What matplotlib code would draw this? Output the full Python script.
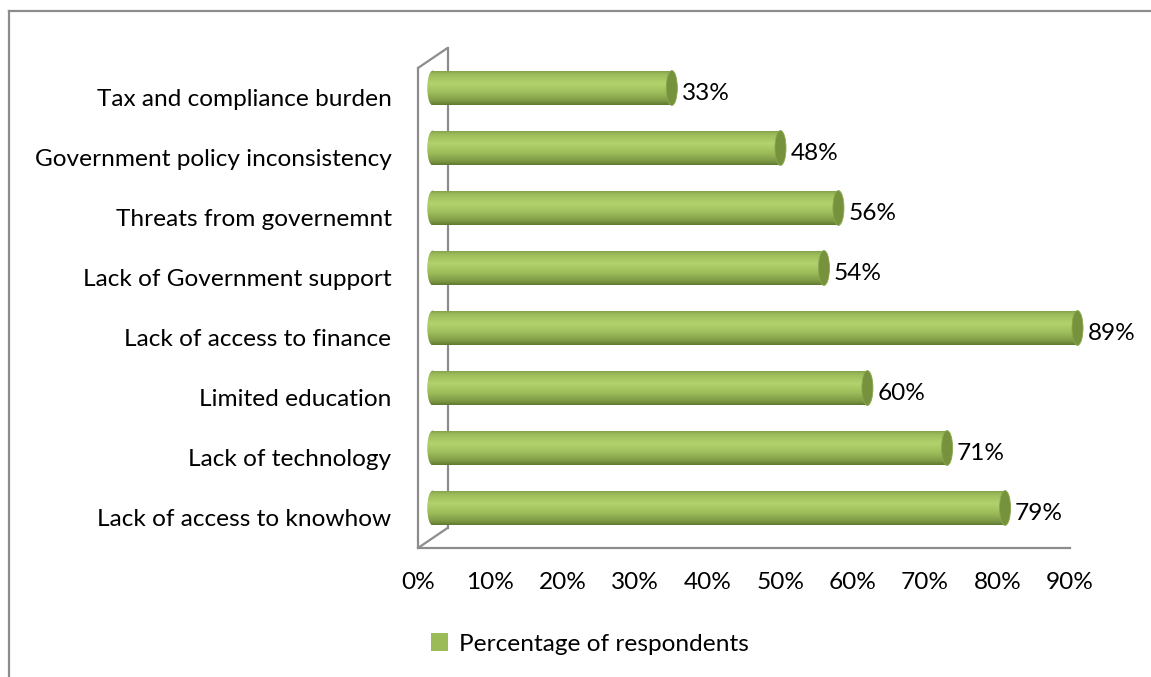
import numpy as np
import matplotlib
matplotlib.use("Agg")
import matplotlib.pyplot as plt
from matplotlib.patches import Ellipse, Rectangle, Patch, ConnectionPatch
from matplotlib.lines import Line2D
from matplotlib.transforms import ScaledTranslation
from matplotlib.colors import LinearSegmentedColormap

# --- data -------------------------------------------------------------
categories = [
    "Tax and compliance burden",
    "Government policy inconsistency",
    "Threats from governemnt",
    "Lack of Government support",
    "Lack of access to finance",
    "Limited education",
    "Lack of technology",
    "Lack of access to knowhow",
]
values = [33, 48, 56, 54, 89, 60, 71, 79]
x_ticks = [0, 10, 20, 30, 40, 50, 60, 70, 80, 90]
x_tick_labels = [f"{t}%" for t in x_ticks]
series_name = "Percentage of respondents"

# --- style ------------------------------------------------------------
plt.rcParams["font.family"] = ["Lato", "DejaVu Sans"]
FS = 17.6
GRID = "#8c8c8c"
GREEN = "#9bbb59"
CAP = "#76923c"

W, H = 1151, 677
fig = plt.figure(figsize=(W / 100, H / 100), dpi=100)
fig.patch.set_facecolor("white")

# chart-area border (top and left edges visible)
fig.add_artist(Line2D([9 / W, 1.0], [1 - 11 / H, 1 - 11 / H], color=GRID, lw=1.6,
                      transform=fig.transFigure))
fig.add_artist(Line2D([9 / W, 9 / W], [0.0, 1 - 11 / H], color=GRID, lw=1.6,
                      transform=fig.transFigure))

# front plane of the 3-D plot area
x0, x1, ytop, ybot = 418, 1070, 68, 548
ax = fig.add_axes([x0 / W, 1 - ybot / H, (x1 - x0) / W, (ybot - ytop) / H])
ax.set_xlim(0, 90)
ax.set_ylim(len(categories) - 0.5, -0.5)
ax.set_facecolor("none")

for s in ["top", "right"]:
    ax.spines[s].set_visible(False)
for s in ["left", "bottom"]:
    ax.spines[s].set_color(GRID)
    ax.spines[s].set_linewidth(1.6)

ax.set_xticks(x_ticks)
ax.set_xticklabels(x_tick_labels, fontsize=FS)
ax.set_yticks(range(len(categories)))
ax.set_yticklabels(categories, fontsize=FS)
ax.tick_params(axis="x", length=0, pad=17)
ax.tick_params(axis="y", length=0, pad=19)

# depth offsets: bars sit half way back, the side wall's rear edge sits at full depth
DX, DY = 29.5, 20.0
mid = ax.transData + ScaledTranslation(DX / 2 / 100, DY / 2 / 100, fig.dpi_scale_trans)
back = ax.transData + ScaledTranslation(DX / 100, DY / 100, fig.dpi_scale_trans)

# side wall: rear vertical edge and the two depth edges
ax.plot([0, 0], [-0.5, len(categories) - 0.5], color=GRID, lw=1.6,
        transform=back, clip_on=False, zorder=1)
for yy in (-0.5, len(categories) - 0.5):
    cp = ConnectionPatch(xyA=(0, yy), coordsA=ax.transData, xyB=(0, yy), coordsB=back,
                         color=GRID, lw=1.6, zorder=1)
    fig.add_artist(cp)

# cylinder shading (top -> bottom of each bar)
shade = LinearSegmentedColormap.from_list(
    "cyl",
    [(0.0, "#7e9a45"), (0.12, "#9cbc5b"), (0.38, "#b1d26c"),
     (0.65, "#9dbd5b"), (0.88, "#7f9b46"), (1.0, "#5f7a2f")],
)
grad = np.linspace(0, 1, 128).reshape(-1, 1)

bar_h = 0.58
cap_w = 11 / ((x1 - x0) / 90.0)  # end-cap width in data units (≈11 px)

for i, v in enumerate(values):
    yc = i
    body = Rectangle((0, yc - bar_h / 2), v, bar_h, transform=mid)
    left_end = Ellipse((0, yc), cap_w, bar_h, transform=mid)
    for clip in (body, left_end):
        im = ax.imshow(grad, cmap=shade, aspect="auto", interpolation="bilinear",
                       extent=(-cap_w, v, yc + bar_h / 2, yc - bar_h / 2),
                       transform=mid, zorder=3)
        im.set_clip_path(clip)
    ax.add_patch(Ellipse((v, yc), cap_w, bar_h, transform=mid, facecolor=CAP,
                         edgecolor="#89a74d", lw=0.6, zorder=4, clip_on=False))
    ax.annotate(f"{v}%", xy=(v, yc), xycoords=mid, xytext=(10, -5),
                textcoords="offset pixels", ha="left", va="center",
                fontsize=FS, color="black", annotation_clip=False, zorder=5)

ax.set_xlim(0, 90)
ax.set_ylim(len(categories) - 0.5, -0.5)

# legend
fig.legend(handles=[Patch(facecolor=GREEN, edgecolor="none")], labels=[series_name],
           loc="center", bbox_to_anchor=(590 / W, 1 - 644 / H), frameon=False,
           fontsize=FS, handlelength=0.7, handleheight=0.7, handletextpad=0.45)

fig.savefig("out.png", dpi=100, facecolor="white")
